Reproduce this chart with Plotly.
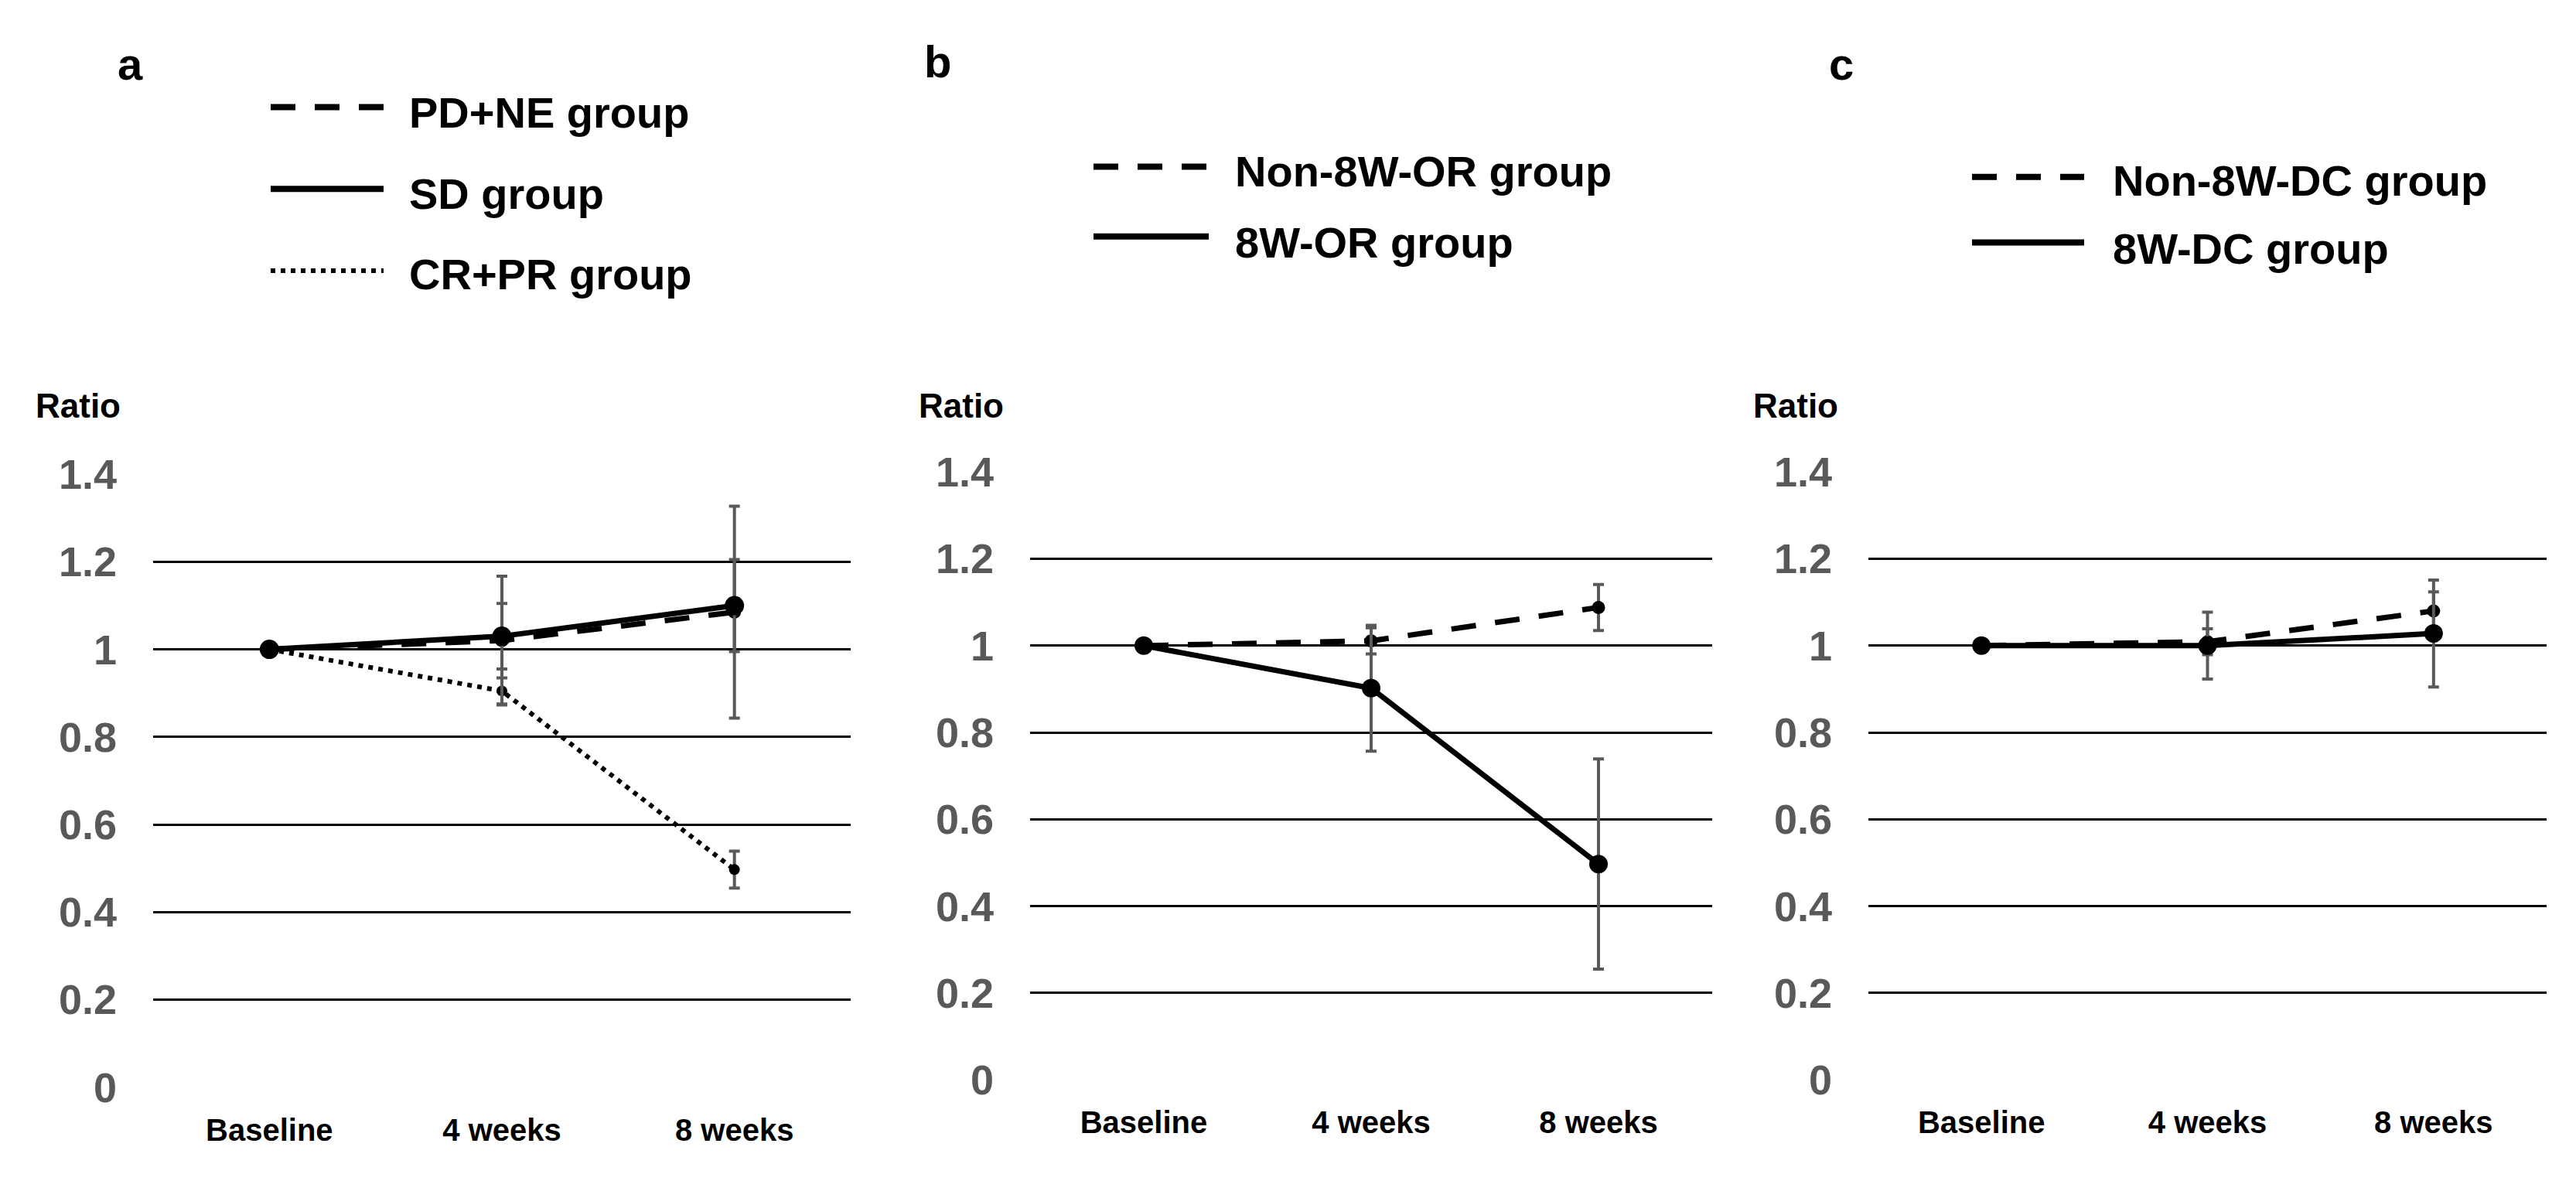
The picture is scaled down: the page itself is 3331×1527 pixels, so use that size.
import plotly.graph_objects as go

W, H = 3331, 1527

categories = ["Baseline", "4 weeks", "8 weeks"]
y_ticks = [0, 0.2, 0.4, 0.6, 0.8, 1.0, 1.2, 1.4]

# Panel a
a_pdne = [1.0, 1.02, 1.085]
a_pdne_err = [0, 0.147, 0.242]
a_sd = [1.0, 1.03, 1.10]
a_sd_err = [0, 0.075, 0.105]
a_crpr = [1.0, 0.905, 0.497]
a_crpr_err = [0, 0.03, 0.042]

# Panel b
b_non = [1.0, 1.011, 1.088]
b_non_err = [0, 0.03, 0.053]
b_or = [1.0, 0.902, 0.497]
b_or_err = [0, 0.145, 0.242]

# Panel c
c_non = [1.0, 1.009, 1.08]
c_non_err = [0, 0.03, 0.044]
c_dc = [1.0, 1.0, 1.028]
c_dc_err = [0, 0.077, 0.123]

panel_letters = ["a", "b", "c"]
legend_a = ["PD+NE group", "SD group", "CR+PR group"]
legend_b = ["Non-8W-OR group", "8W-OR group"]
legend_c = ["Non-8W-DC group", "8W-DC group"]

FONT = "Liberation Sans, Arial, sans-serif"
ERR_COLOR = "#595959"
DASH = "32px,25px"
DOT = "6px,7px"


def px(x):
    return x / W


def py(y):
    return 1 - y / H


fig = go.Figure()


def add_series(vals, errs, dash, width, msize, axis_idx, name):
    suffix = "" if axis_idx == 1 else str(axis_idx)
    fig.add_trace(go.Scatter(
        x=categories, y=vals, name=name, mode="lines+markers",
        line=dict(color="black", width=width, dash=dash),
        marker=dict(color="black", size=msize, symbol="circle"),
        error_y=dict(type="data", array=errs, visible=True,
                     color=ERR_COLOR, thickness=4, width=7),
        xaxis="x" + suffix, yaxis="y" + suffix, showlegend=False,
    ))


# Panel a
add_series(a_crpr, a_crpr_err, DOT, 6, 14, 1, legend_a[2])
add_series(a_pdne, a_pdne_err, DASH, 7, 17, 1, legend_a[0])
add_series(a_sd, a_sd_err, "solid", 7, 25, 1, legend_a[1])
# Panel b
add_series(b_non, b_non_err, DASH, 7, 17, 2, legend_b[0])
add_series(b_or, b_or_err, "solid", 7, 24, 2, legend_b[1])
# Panel c
add_series(c_non, c_non_err, DASH, 7, 17, 3, legend_c[0])
add_series(c_dc, c_dc_err, "solid", 7, 24, 3, legend_c[1])

xdomains = [(198, 1100), (1332, 2214), (2416, 3293)]
ydomains = [(1432, 607), (1422, 604), (1422, 604)]

layout = dict(
    width=W, height=H, margin=dict(l=0, r=0, t=0, b=0),
    paper_bgcolor="white", plot_bgcolor="white",
    font=dict(family=FONT, color="black"),
    showlegend=False,
)
for i in range(3):
    s = "" if i == 0 else str(i + 1)
    x0, x1 = xdomains[i]
    yb, yt = ydomains[i]
    layout["xaxis" + s] = dict(
        domain=[px(x0), px(x1)], type="category", range=[-0.5, 2.5],
        anchor="y" + s, showgrid=False, zeroline=False, showline=False,
        ticks="", ticklabelstandoff=28,
        tickfont=dict(family=FONT, size=40, color="black", weight="bold"),
    )
    layout["yaxis" + s] = dict(
        domain=[py(yb), py(yt)], range=[0, 1.4], anchor="x" + s,
        tickvals=y_ticks, showgrid=True, gridcolor="black", gridwidth=3,
        zeroline=False, showline=False, ticks="", ticklabelstandoff=46,
        tickfont=dict(family=FONT, size=54, color="#595959", weight="bold"),
    )
fig.update_layout(**layout)

annotations = []
shapes = []

# panel letters
letter_pos = [(168, 55), (1212, 52), (2381, 55)]
for (lx, ly), t in zip(letter_pos, panel_letters):
    annotations.append(dict(x=px(lx), y=py(ly), xref="paper", yref="paper",
                            xanchor="center", yanchor="middle",
                            text="<b>%s</b>" % t, showarrow=False,
                            font=dict(family=FONT, size=58, color="black")))

# Ratio labels
ratio_pos = [(101, 515), (1243, 515), (2322, 515)]
for rx, ry in ratio_pos:
    annotations.append(dict(x=px(rx), y=py(ry), xref="paper", yref="paper",
                            xanchor="center", yanchor="middle",
                            text="<b>Ratio</b>", showarrow=False,
                            font=dict(family=FONT, size=44, color="black")))

# Legends: (sample x0, sample x1, text x, sample ys, text ys, names, dashes, widths)
legend_specs = [
    (350, 496, 527, [113, 223, 333], [120, 230, 338], legend_a,
     [DASH, "solid", DOT], [8, 8, 6]),
    (1414, 1563, 1595, [193, 287], [199, 295], legend_b, [DASH, "solid"], [8, 8]),
    (2550, 2695, 2730, [207, 295], [212, 303], legend_c, [DASH, "solid"], [8, 8]),
]
for sx0, sx1, tx, ys, tys, names, dashes, widths in legend_specs:
    for yy, ty, nm, ds, wd in zip(ys, tys, names, dashes, widths):
        shapes.append(dict(type="line", xref="paper", yref="paper",
                           x0=px(sx0), x1=px(sx1), y0=py(yy), y1=py(yy),
                           line=dict(color="black", width=wd, dash=ds)))
        annotations.append(dict(x=px(tx), y=py(ty), xref="paper", yref="paper",
                                xanchor="left", yanchor="middle",
                                text="<b>%s</b>" % nm, showarrow=False,
                                font=dict(family=FONT, size=56, color="black")))

fig.update_layout(annotations=annotations, shapes=shapes)
fig.write_html(
    "out.html",
    config={"displayModeBar": False},
    post_script="document.body.style.margin='0';document.body.style.overflow='hidden';",
)
